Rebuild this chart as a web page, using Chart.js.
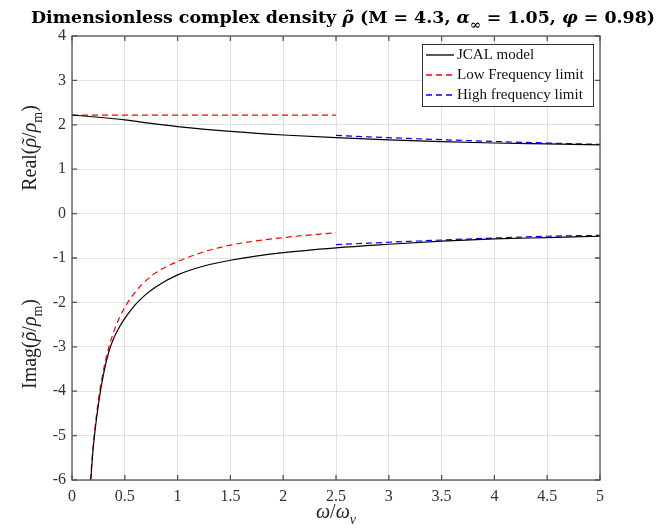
<!DOCTYPE html>
<html><head><meta charset="utf-8">
<script src="https://cdn.jsdelivr.net/npm/chart.js@4.4.1/dist/chart.umd.min.js"></script>
<style>html,body{margin:0;padding:0;background:#fff;}</style>
</head><body>
<canvas id="c" width="661" height="531"></canvas>
<script>
// ---- data ----
const xTickLabels = ['0','0.5','1','1.5','2','2.5','3','3.5','4','4.5','5'];
const yTickLabels = ['-6','-5','-4','-3','-2','-1','0','1','2','3','4'];

const xJcalReal = [0, 0.25, 0.5, 0.75, 1, 1.5, 2, 2.5, 3, 3.5, 4, 4.5, 5];
const jcalReal  = [2.22, 2.17, 2.11, 2.03, 1.96, 1.85, 1.77, 1.71, 1.66, 1.62, 1.59, 1.57, 1.55];

const xJcalImag = [0.178, 0.2, 0.25, 0.3, 0.35, 0.4, 0.45, 0.5, 0.6, 0.7, 0.8, 1, 1.25, 1.5, 2, 2.5, 3, 3.5, 4, 4.5, 5];
const jcalImag  = [-6, -5.3, -4.3, -3.6, -3.1, -2.78, -2.55, -2.36, -2.05, -1.82, -1.64, -1.38, -1.18, -1.05, -0.88, -0.77, -0.69, -0.62, -0.57, -0.54, -0.51];

const xLowReal = [0, 2.5];
const lowReal  = [2.22, 2.22];

const xLowImag = [0.175, 0.2, 0.25, 0.3, 0.35, 0.4, 0.45, 0.5, 0.6, 0.7, 0.8, 1, 1.25, 1.5, 2, 2.5];
const lowImag  = [-6, -5.25, -4.2, -3.5, -3.0, -2.63, -2.34, -2.11, -1.76, -1.51, -1.32, -1.08, -0.86, -0.71, -0.54, -0.43];

const xHigh    = [2.5, 3, 3.5, 4, 4.5, 5];
const highReal = [1.76, 1.71, 1.665, 1.625, 1.59, 1.56];
const highImag = [-0.70, -0.645, -0.595, -0.55, -0.51, -0.49];

const legendLabels = ['JCAL model', 'Low Frequency limit', 'High frequency limit'];

// ---- styles ----
const SERIF = '"Liberation Serif", "DejaVu Serif", serif';
const TITLE_FONT = '"DejaVu Serif", "Liberation Serif", serif';
const AXIS = '#555555';
const COLORS = {jcal: '#000000', low: '#ff0000', high: '#0000ff'};
const DASH = [6, 4];

const pts = (xs, ys) => xs.map((x, i) => ({x: x, y: ys[i]}));

function segFont(s, size, bold, fam) {
  const sz = s.sub ? Math.round(size * 0.72) : size;
  return (s.italic ? 'italic ' : '') + (bold ? 'bold ' : '') + sz + 'px ' + fam;
}
function richWidth(ctx, segs, size, bold, fam) {
  let w = 0;
  segs.forEach(s => { ctx.font = segFont(s, size, bold, fam); w += ctx.measureText(s.t).width; });
  return w;
}
function drawRich(ctx, segs, x, y, size, bold, align, fam) {
  const w = richWidth(ctx, segs, size, bold, fam);
  let cx = align === 'center' ? x - w / 2 : (align === 'right' ? x - w : x);
  ctx.textBaseline = 'alphabetic';
  ctx.textAlign = 'left';
  segs.forEach(s => {
    ctx.font = segFont(s, size, bold, fam);
    const sw = ctx.measureText(s.t).width;
    ctx.fillText(s.t, cx, y + (s.sub ? size * 0.32 : 0));
    if (s.tilde) {
      ctx.font = (bold ? 'bold ' : '') + size + 'px ' + fam;
      const tw = ctx.measureText('˜').width;
      ctx.fillText('˜', cx + sw / 2 - tw / 2 + size * 0.06, y - size * 0.02);
      ctx.font = segFont(s, size, bold, fam);
    }
    cx += sw;
  });
}

const titleSegs = [
  {t: 'Dimensionless complex density '}, {t: 'ρ', italic: true, tilde: true},
  {t: ' (M = 4.3, '}, {t: 'α', italic: true}, {t: '∞', sub: true},
  {t: ' = 1.05, '}, {t: 'φ', italic: true}, {t: ' = 0.98)'}
];
const xTitleSegs = [{t: 'ω', italic: true}, {t: '/'}, {t: 'ω', italic: true}, {t: 'ν', italic: true, sub: true}];
const realSegs = [{t: 'Real('}, {t: 'ρ', italic: true, tilde: true}, {t: '/'}, {t: 'ρ', italic: true}, {t: 'm', sub: true}, {t: ')'}];
const imagSegs = [{t: 'Imag('}, {t: 'ρ', italic: true, tilde: true}, {t: '/'}, {t: 'ρ', italic: true}, {t: 'm', sub: true}, {t: ')'}];

const decor = {
  id: 'decor',
  afterDatasetsDraw(chart) {
    const ctx = chart.ctx;
    const a = chart.chartArea;
    const xs = chart.scales.x, ys = chart.scales.y;
    ctx.save();
    // box
    ctx.strokeStyle = AXIS;
    ctx.lineWidth = 1.3;
    ctx.setLineDash([]);
    ctx.strokeRect(a.left, a.top, a.right - a.left, a.bottom - a.top);
    // inward ticks on all four sides
    const tl = 5;
    ctx.beginPath();
    xs.ticks.forEach(t => {
      const px = xs.getPixelForValue(t.value);
      ctx.moveTo(px, a.bottom); ctx.lineTo(px, a.bottom - tl);
      ctx.moveTo(px, a.top); ctx.lineTo(px, a.top + tl);
    });
    ys.ticks.forEach(t => {
      const py = ys.getPixelForValue(t.value);
      ctx.moveTo(a.left, py); ctx.lineTo(a.left + tl, py);
      ctx.moveTo(a.right, py); ctx.lineTo(a.right - tl, py);
    });
    ctx.stroke();

    // legend
    const lx = 422, ly = 44, lw = 171, lh = 62;
    ctx.fillStyle = '#ffffff';
    ctx.fillRect(lx, ly, lw, lh);
    ctx.strokeStyle = '#333333';
    ctx.lineWidth = 1;
    ctx.strokeRect(lx + 0.5, ly + 0.5, lw, lh);
    const rows = [55, 75, 95];
    const legColors = [COLORS.jcal, COLORS.low, COLORS.high];
    const legDash = [[], DASH, DASH];
    for (let i = 0; i < 3; i++) {
      ctx.save();
      ctx.strokeStyle = legColors[i];
      ctx.lineWidth = 1.3;
      ctx.setLineDash(legDash[i]);
      ctx.beginPath();
      ctx.moveTo(lx + 4, rows[i]); ctx.lineTo(lx + 32, rows[i]);
      ctx.stroke();
      ctx.restore();
      ctx.fillStyle = '#111111';
      ctx.font = '15px ' + SERIF;
      ctx.textAlign = 'left';
      ctx.textBaseline = 'middle';
      ctx.fillText(legendLabels[i], lx + 35, rows[i]);
    }

    // title (fit to reference width)
    ctx.fillStyle = '#000000';
    const w20 = richWidth(ctx, titleSegs, 20, true, TITLE_FONT);
    const tsize = Math.min(20, 20 * 624 / w20);
    drawRich(ctx, titleSegs, 343, 23, tsize, true, 'center', TITLE_FONT);
    // x axis title
    ctx.fillStyle = '#222222';
    drawRich(ctx, xTitleSegs, (a.left + a.right) / 2, 518, 20, false, 'center', SERIF);
    // y axis labels
    ctx.save();
    ctx.translate(36, 148);
    ctx.rotate(-Math.PI / 2);
    drawRich(ctx, realSegs, 0, 0, 20, false, 'center', SERIF);
    ctx.restore();
    ctx.save();
    ctx.translate(36, 344);
    ctx.rotate(-Math.PI / 2);
    drawRich(ctx, imagSegs, 0, 0, 20, false, 'center', SERIF);
    ctx.restore();
    ctx.restore();
  }
};

const lineDs = (label, data, color, dash) => ({
  label: label, data: data, borderColor: color, borderWidth: 1.2,
  borderDash: dash, pointRadius: 0, fill: false,
  cubicInterpolationMode: 'monotone', clip: 2
});

new Chart(document.getElementById('c'), {
  type: 'line',
  data: {
    datasets: [
      lineDs(legendLabels[0], pts(xJcalReal, jcalReal), COLORS.jcal, []),
      lineDs(legendLabels[1], pts(xLowReal, lowReal), COLORS.low, DASH),
      lineDs(legendLabels[2], pts(xHigh, highReal), COLORS.high, DASH),
      lineDs(legendLabels[0] + ' (imag)', pts(xJcalImag, jcalImag), COLORS.jcal, []),
      lineDs(legendLabels[1] + ' (imag)', pts(xLowImag, lowImag), COLORS.low, DASH),
      lineDs(legendLabels[2] + ' (imag)', pts(xHigh, highImag), COLORS.high, DASH)
    ]
  },
  options: {
    responsive: false,
    animation: false,
    devicePixelRatio: 1,
    layout: {padding: {top: 36, right: 61, left: 0, bottom: 0}},
    plugins: {legend: {display: false}, title: {display: false}, tooltip: {enabled: false}},
    scales: {
      x: {
        type: 'linear', min: 0, max: 5,
        ticks: {stepSize: 0.5, autoSkip: false, maxRotation: 0, padding: 7,
          color: '#333333', font: {family: SERIF, size: 16},
          callback: (v, i) => xTickLabels[i]},
        grid: {color: '#e2e2e2', drawTicks: false, lineWidth: 1},
        border: {display: false},
        afterFit: s => { s.height = 51; }
      },
      y: {
        type: 'linear', min: -6, max: 4,
        ticks: {stepSize: 1, autoSkip: false, padding: 6,
          color: '#333333', font: {family: SERIF, size: 16},
          callback: (v, i) => yTickLabels[i]},
        grid: {color: '#e2e2e2', drawTicks: false, lineWidth: 1},
        border: {display: false},
        afterFit: s => { s.width = 72; }
      }
    }
  },
  plugins: [decor]
});
</script>
</body></html>
